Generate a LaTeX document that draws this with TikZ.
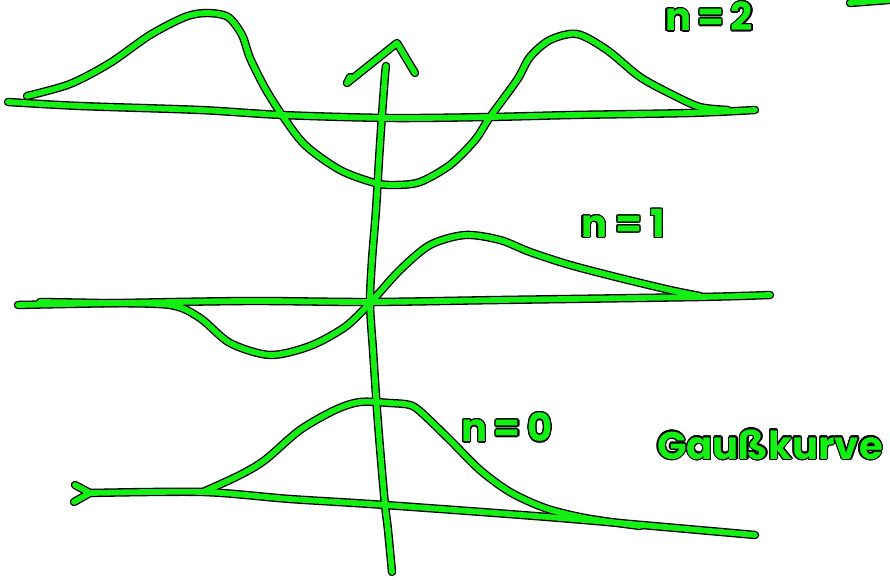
\documentclass[tikz,border=0pt]{standalone}
\usepackage{fontspec}
\setsansfont{Poppins}
\usepackage[copies]{contour}
\contourlength{0.7pt}
\definecolor{marker}{RGB}{20,240,20}
\tikzset{
  outline/.style={black, line width=4.8pt, line cap=round, line join=round},
  ink/.style={marker, line width=3.3pt, line cap=round, line join=round},
  hand/.style={text=marker, font=\sffamily\bfseries\fontsize{22}{26}\selectfont, inner sep=0pt}
}
\newcommand{\strokes}[1]{%
  % n = 2
  \draw[#1] plot[smooth] coordinates {(8,102) (80,106) (200,110) (282,115) (390,118) (490,117) (573,115) (690,113) (755,110)};
  \draw[#1] plot[smooth] coordinates {(27,96) (70,84) (110,63) (150,35) (185,17) (207,13) (228,17) (242,35) (250,58) (265,88) (282,115) (305,145) (340,170) (375,183) (395,185) (420,182) (450,165) (475,140) (490,117) (517,80) (530,57) (550,40) (577,34) (607,50) (640,77) (673,95) (700,107) (728,110)};
  % n = 1
  \draw[#1] plot[smooth] coordinates {(18,305) (120,303) (250,301) (370,302) (500,300) (700,297) (770,295)};
  \draw[#1] plot[smooth] coordinates {(40,302) (100,303) (170,305) (200,318) (230,343) (270,355) (310,346) (345,327) (370,303) (400,270) (430,245) (465,235) (500,240) (530,252) (570,265) (620,278) (670,290) (700,296)};
  % n = 0
  \draw[#1] (75,485) -- (90,493) -- (74,502);
  \draw[#1] plot[smooth] coordinates {(90,493) (203,492) (290,499) (385,505) (560,518) (755,535)};
  \draw[#1] plot[smooth] coordinates {(203,492) (240,475) (265,460) (300,430) (335,410) (360,402) (390,403) (410,405) (422,413) (450,440) (480,470) (510,492) (545,508) (585,518) (640,526)};
  % axis
  \draw[#1] plot[smooth] coordinates {(392,572) (388,530) (385,505) (381,460) (377,410) (373,350) (370,303) (372,260) (376,210) (379,160) (382,115) (385,75) (386,66)};
  \draw[#1] (350,77) -- (347,83) -- (397,43) -- (415,73);
  % cut off at the corner
  \draw[#1] (850,3) -- (889,0);
}

\begin{document}
\begin{tikzpicture}[x=0.02cm, y=-0.02cm]
  \useasboundingbox (0,0) rectangle (890,580);
  \strokes{outline}
  \strokes{ink}
  % labels
  \node[hand] (ntwo) at (709,17) {\contour{black}{n\,=\,2}};
  \node[hand] (none) at (623,224) {\contour{black}{n = 1}};
  \node[hand] (nzero) at (507,428) {\contour{black}{n\,=\,0}};
  \node[hand] (gauss) at (770,445) {\contour{black}{Gaußkurve}};
\end{tikzpicture}
\end{document}
